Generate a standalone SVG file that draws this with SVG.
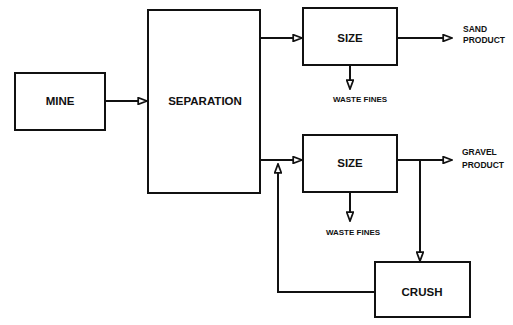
<svg xmlns="http://www.w3.org/2000/svg" width="513" height="325" viewBox="0 0 513 325">
<style>
.box{fill:#fff;stroke:#111;stroke-width:2}
.ln{fill:none;stroke:#111;stroke-width:2}
.t{font-family:"Liberation Sans",Arial,sans-serif;font-weight:bold;fill:#111;text-anchor:middle}
.big{font-size:11.5px}
.sm{font-size:8px}
.lab{font-family:"Liberation Sans",Arial,sans-serif;font-weight:bold;fill:#111;font-size:8.5px}
</style>
<defs>
<marker id="ah" viewBox="0 0 10 8" refX="9" refY="4" markerWidth="5.5" markerHeight="4.4" orient="auto" markerUnits="strokeWidth">
<path d="M1,1 L9,4 L1,7 Z" fill="#fff" stroke="#111" stroke-width="1.6"/>
</marker>
</defs>
<rect width="513" height="325" fill="#fff"/>
<g id="connectors">
<path class="ln" d="M105,101 H147" marker-end="url(#ah)"/>
<path class="ln" d="M260,38 H302" marker-end="url(#ah)"/>
<path class="ln" d="M397,38 H452" marker-end="url(#ah)"/>
<path class="ln" d="M350,65 V89" marker-end="url(#ah)"/>
<path class="ln" d="M260,160 H302" marker-end="url(#ah)"/>
<path class="ln" d="M397,160 H452" marker-end="url(#ah)"/>
<path class="ln" d="M350,192 V221" marker-end="url(#ah)"/>
<path class="ln" d="M420,160 V261" marker-end="url(#ah)"/>
<path class="ln" d="M375,292 H278 V164" marker-end="url(#ah)"/>
</g>
<g id="mine">
<rect class="box" x="15" y="73" width="90" height="57"/>
<text class="t big" x="60" y="105">MINE</text>
</g>
<g id="separation">
<rect class="box" x="148" y="10" width="112" height="183"/>
<text class="t big" x="205" y="105">SEPARATION</text>
</g>
<g id="size1">
<rect class="box" x="303" y="8" width="94" height="57"/>
<text class="t big" x="350" y="42">SIZE</text>
</g>
<g id="size2">
<rect class="box" x="303" y="135" width="94" height="57"/>
<text class="t big" x="350" y="167">SIZE</text>
</g>
<g id="crush">
<rect class="box" x="375" y="262" width="95" height="55"/>
<text class="t big" x="422" y="296">CRUSH</text>
</g>
<g id="sand">
<text class="lab" x="463" y="32">SAND</text>
<text class="lab" x="463" y="43">PRODUCT</text>
</g>
<g id="gravel">
<text class="lab" x="462" y="155">GRAVEL</text>
<text class="lab" x="462" y="168">PRODUCT</text>
</g>
<g id="waste1">
<text class="t sm" x="360" y="102">WASTE FINES</text>
</g>
<g id="waste2">
<text class="t sm" x="353" y="235">WASTE FINES</text>
</g>
</svg>
